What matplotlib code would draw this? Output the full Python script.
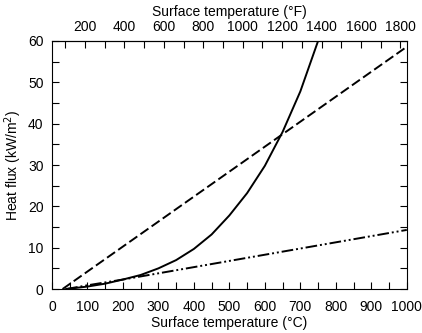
import numpy as np
import matplotlib
matplotlib.use("Agg")
import matplotlib.pyplot as plt
from matplotlib.ticker import MultipleLocator, FixedLocator

plt.rcParams['font.family'] = ['Liberation Sans', 'DejaVu Sans']

# solid curve
t_solid = [40, 100, 150, 200, 250, 300, 350, 400, 450, 500, 550, 600, 650, 700, 750, 770]
q_solid = [0.0, 0.6, 1.3, 2.3, 3.4, 5.0, 7.0, 9.7, 13.2, 17.8, 23.2, 29.8, 38.0, 47.8, 60.0, 65.0]

# dashed line
t_dash = [30, 1000]
q_dash = [0.0, 58.6]

# dash-dot-dot line
t_dd = [40, 100, 200, 300, 400, 500, 600, 700, 800, 900, 1000]
q_dd = [0.0, 0.9, 2.3, 3.8, 5.3, 6.8, 8.3, 9.8, 11.3, 12.8, 14.3]

fig = plt.figure(figsize=(4.22, 3.33), dpi=100)
ax = fig.add_axes([0.123, 0.132, 0.841, 0.745])

ax.plot(t_solid, q_solid, color='black', lw=1.4)
ax.plot(t_dash, q_dash, color='black', lw=1.4, linestyle=(0, (5, 2)))
ax.plot(t_dd, q_dd, color='black', lw=1.4, linestyle=(0, (6, 1.5, 1, 1.5, 1, 1.5)))

ax.set_xlim(0, 1000)
ax.set_ylim(0, 60)
ax.xaxis.set_major_locator(MultipleLocator(100))
ax.xaxis.set_minor_locator(MultipleLocator(50))
ax.yaxis.set_major_locator(MultipleLocator(10))
ax.yaxis.set_minor_locator(MultipleLocator(5))
ax.tick_params(which='both', direction='in', length=5, width=0.8, labelsize=10,
               right=True, top=False)
ax.tick_params(axis='x', pad=8)
ax.tick_params(axis='y', pad=6)

ax.set_xlabel('Surface temperature (°C)', fontsize=10, labelpad=1)
ax.set_ylabel('Heat flux (kW/m$^2$)', fontsize=10, labelpad=3)

c2f = lambda c: c * 9 / 5 + 32
f2c = lambda f: (f - 32) * 5 / 9
sec = ax.secondary_xaxis('top', functions=(c2f, f2c))
sec.xaxis.set_major_locator(FixedLocator(list(range(200, 1900, 200))))
sec.xaxis.set_minor_locator(FixedLocator(list(range(100, 1900, 100))))
sec.tick_params(which='both', direction='in', length=5, width=0.8, labelsize=10, pad=5)
sec.set_xlabel('Surface temperature (°F)', fontsize=10, labelpad=3)

for s in ax.spines.values():
    s.set_linewidth(0.8)

fig.savefig('out.png', dpi=100)
